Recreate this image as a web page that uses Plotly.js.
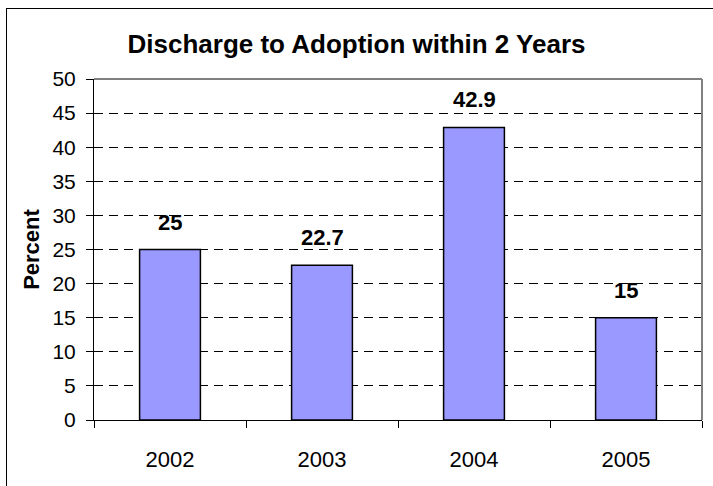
<!DOCTYPE html>
<html>
<head>
<meta charset="utf-8">
<script src="https://cdn.plot.ly/plotly-3.0.1.min.js"></script>
<style>
html,body{margin:0;padding:0;background:#fff;overflow:hidden;}
#frame{position:absolute;left:6px;top:8px;width:720px;height:500px;border:1px solid #000;box-sizing:border-box;}
#chart{position:absolute;left:0;top:0;width:713px;height:486px;}
</style>
</head>
<body>
<div id="frame"></div>
<div id="chart"></div>
<script>
const categories = ["2002", "2003", "2004", "2005"];
const percentValues = [25, 22.7, 42.9, 15];
const valueLabels = ["25", "22.7", "42.9", "15"];
const yTickValues = [0, 5, 10, 15, 20, 25, 30, 35, 40, 45, 50];

const font = "Liberation Sans, Arial, sans-serif";

const trace = {
  type: "bar",
  x: categories,
  y: percentValues,
  marker: {color: "#9999FF", line: {color: "#000", width: 1.5}},
  width: 0.4,
  hoverinfo: "skip"
};

// category index positions on the category axis
const labelAnnotations = categories.map((c, i) => ({
  x: i, y: percentValues[i], xref: "x", yref: "y",
  text: "<b>" + valueLabels[i] + "</b>",
  showarrow: false, yanchor: "bottom", yshift: 13,
  font: {family: font, size: 22, color: "#000"}
}));

const layout = {
  width: 713,
  height: 486,
  margin: {l: 94, r: 11, t: 79, b: 66},
  paper_bgcolor: "rgba(0,0,0,0)",
  plot_bgcolor: "#fff",
  showlegend: false,
  title: {
    text: "<b>Discharge to Adoption within 2 Years</b>",
    font: {family: font, size: 26, color: "#000"},
    x: 0.5, xanchor: "center", y: 0.91, yanchor: "middle"
  },
  xaxis: {
    type: "category",
    range: [-0.5, categories.length - 0.5],
    tickfont: {family: font, size: 22, color: "#000"},
    showline: true, linecolor: "#000", linewidth: 1,
    ticks: "outside", tickson: "boundaries", ticklen: 7, tickcolor: "#000",
    showgrid: false, zeroline: false,
    fixedrange: true,
    ticklabelstandoff: 20
  },
  yaxis: {
    range: [0, 50],
    tickvals: yTickValues,
    tickfont: {family: font, size: 21, color: "#000"},
    showline: true, linecolor: "#000", linewidth: 1,
    ticks: "outside", ticklen: 7, tickcolor: "#000",
    ticklabelstandoff: 6,
    showgrid: true, gridcolor: "#000", gridwidth: 1, griddash: "9px,6px",
    zeroline: false,
    title: {text: "<b>Percent</b>", font: {family: font, size: 22, color: "#000"}, standoff: 6},
    fixedrange: true
  },
  annotations: labelAnnotations,
  shapes: [
    {type: "line", xref: "paper", yref: "paper", x0: 0, x1: 1, y0: 1, y1: 1, line: {color: "#808080", width: 2}},
    {type: "line", xref: "paper", yref: "paper", x0: 1, x1: 1, y0: 0, y1: 1, line: {color: "#808080", width: 2}}
  ]
};

Plotly.newPlot("chart", [trace], layout, {displayModeBar: false, staticPlot: true});
</script>
</body>
</html>
